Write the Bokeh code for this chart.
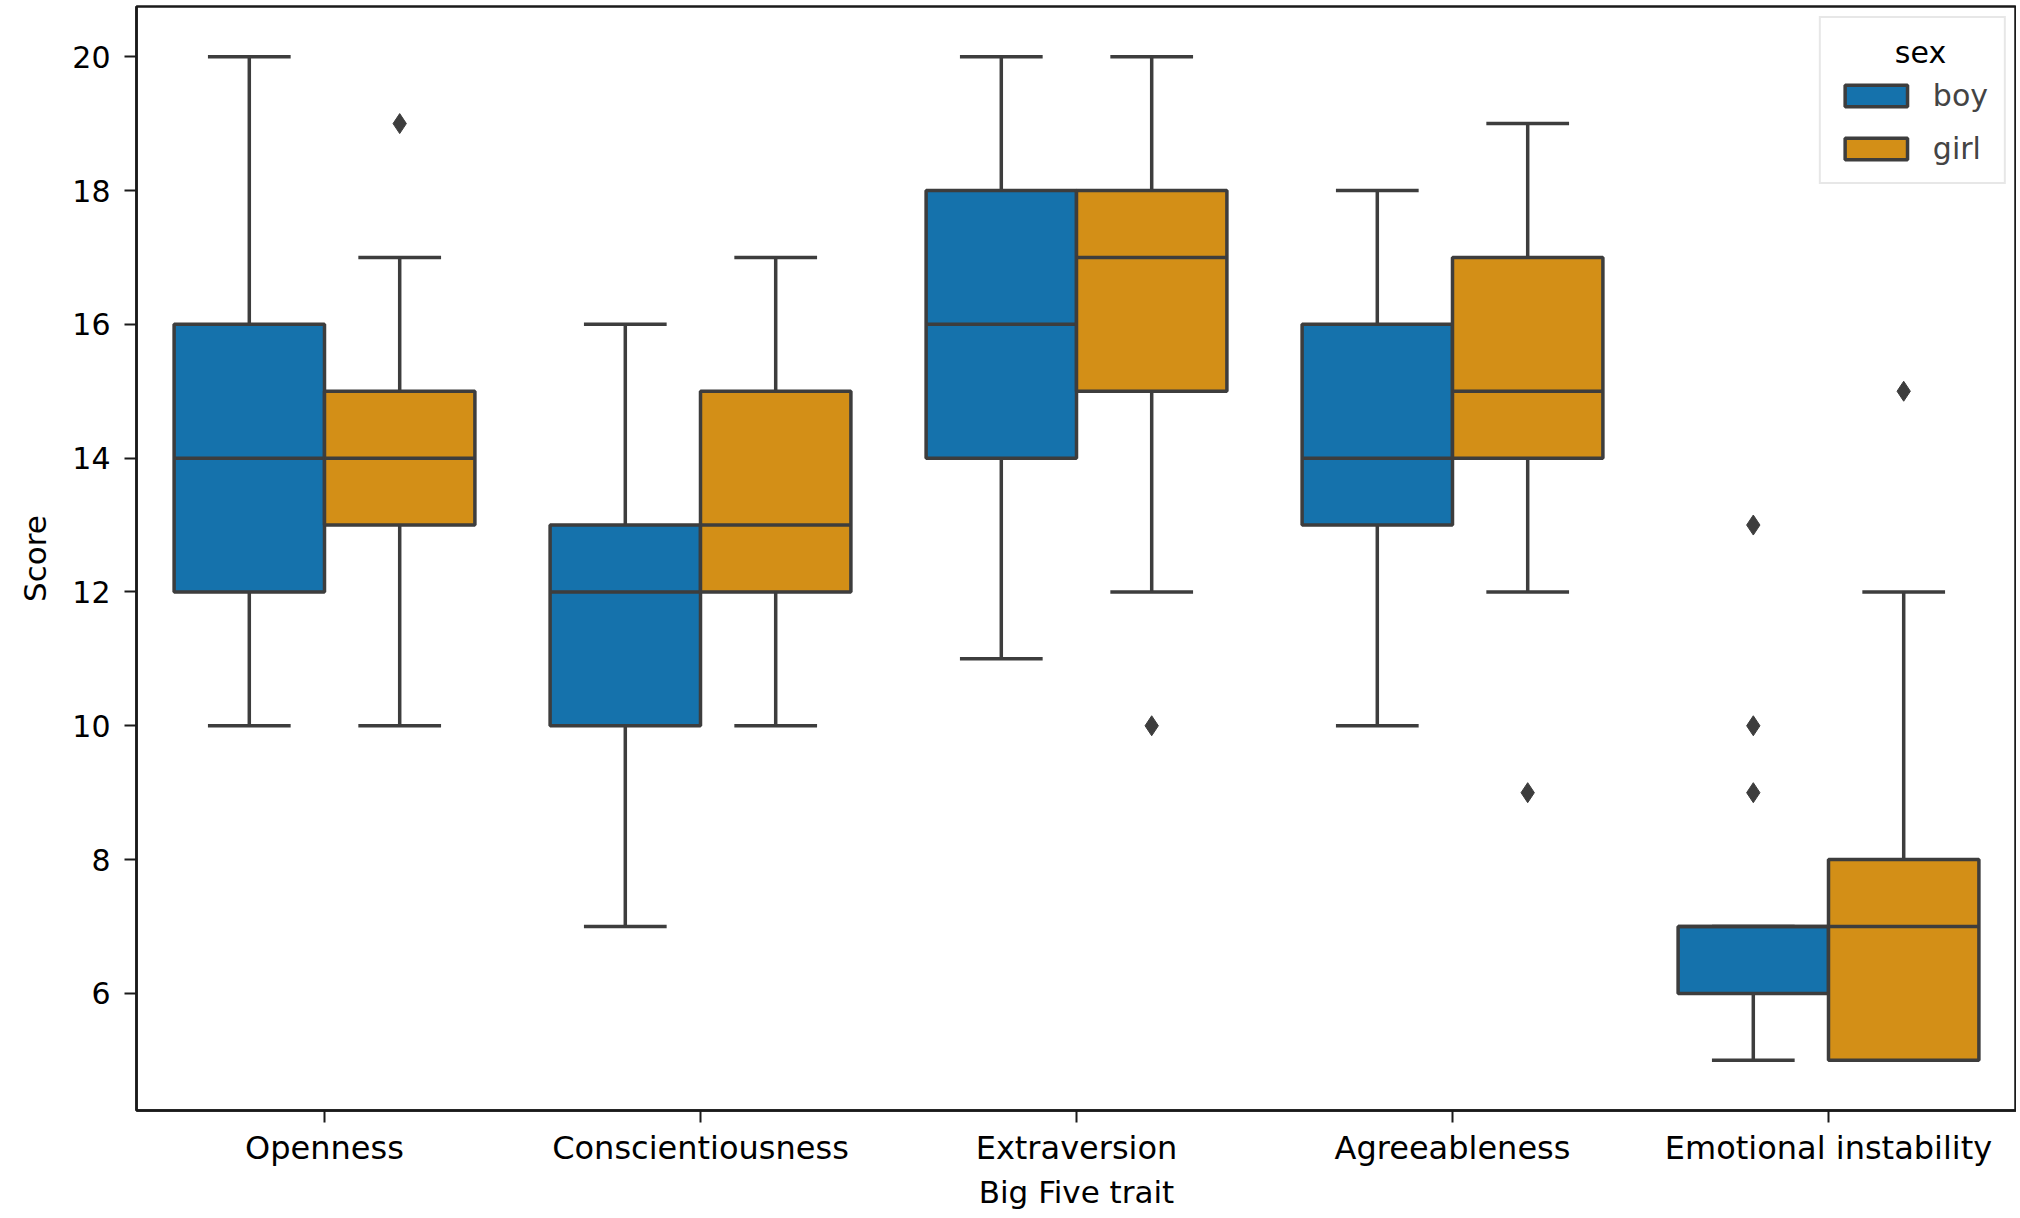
from bokeh.plotting import figure
from bokeh.models import ColumnDataSource, FixedTicker, Legend, LegendItem, Label
from bokeh.transform import dodge
from bokeh.embed import file_html
from bokeh.resources import INLINE

traits = ["Openness", "Conscientiousness", "Extraversion", "Agreeableness", "Emotional instability"]
sexes = ["boy", "girl"]

boy_low = [10, 7, 11, 10, 5]
boy_q1 = [12, 10, 14, 13, 6]
boy_med = [14, 12, 16, 14, 7]
boy_q3 = [16, 13, 18, 16, 7]
boy_high = [20, 16, 20, 18, 7]

girl_low = [10, 10, 12, 12, 5]
girl_q1 = [13, 12, 15, 14, 5]
girl_med = [14, 13, 17, 15, 7]
girl_q3 = [15, 15, 18, 17, 8]
girl_high = [17, 17, 20, 19, 12]

boy_out_trait = ["Emotional instability", "Emotional instability", "Emotional instability"]
boy_out_val = [13, 10, 9]
girl_out_trait = ["Openness", "Extraversion", "Agreeableness", "Emotional instability"]
girl_out_val = [19, 10, 9, 15]

y_ticks = [6, 8, 10, 12, 14, 16, 18, 20]

colors = {"boy": "#1572ac", "girl": "#d38f17"}
offsets = {"boy": -0.2, "girl": 0.2}
LINE = "#3d3d3d"
LW = 3.5
FONT = "DejaVu Sans"

p = figure(x_range=traits, y_range=(4.25, 20.75), width=2016, height=1214,
           output_backend="svg", toolbar_location=None,
           min_border_left=136, min_border_right=0, min_border_top=6, min_border_bottom=104)

stats = {
    "boy": dict(trait=traits, low=boy_low, q1=boy_q1, med=boy_med, q3=boy_q3, high=boy_high),
    "girl": dict(trait=traits, low=girl_low, q1=girl_q1, med=girl_med, q3=girl_q3, high=girl_high),
}
outs = {
    "boy": dict(trait=boy_out_trait, val=boy_out_val),
    "girl": dict(trait=girl_out_trait, val=girl_out_val),
}

box_renderers = {}
for s in sexes:
    src = ColumnDataSource(stats[s])
    off = offsets[s]
    xc = dodge("trait", off, range=p.x_range)
    xl = dodge("trait", off - 0.11, range=p.x_range)
    xr = dodge("trait", off + 0.11, range=p.x_range)
    # whiskers
    p.segment(x0=xc, y0="low", x1=xc, y1="q1", source=src, line_color=LINE, line_width=LW)
    p.segment(x0=xc, y0="q3", x1=xc, y1="high", source=src, line_color=LINE, line_width=LW)
    # caps
    p.segment(x0=xl, y0="low", x1=xr, y1="low", source=src, line_color=LINE, line_width=LW)
    p.segment(x0=xl, y0="high", x1=xr, y1="high", source=src, line_color=LINE, line_width=LW)
    # boxes
    r = p.vbar(x=xc, width=0.4, bottom="q1", top="q3", source=src,
               fill_color=colors[s], line_color=LINE, line_width=LW)
    box_renderers[s] = r
    # medians
    xbl = dodge("trait", off - 0.2, range=p.x_range)
    xbr = dodge("trait", off + 0.2, range=p.x_range)
    p.segment(x0=xbl, y0="med", x1=xbr, y1="med", source=src, line_color=LINE, line_width=LW)
    # outliers
    osrc = ColumnDataSource(outs[s])
    p.scatter(x=dodge("trait", off, range=p.x_range), y="val", source=osrc, marker="diamond",
              size=20, fill_color=LINE, line_color=LINE, line_width=1)

p.xgrid.grid_line_color = None
p.ygrid.grid_line_color = None
p.outline_line_color = "#1a1a1a"
p.outline_line_width = 2.5
p.outline_line_alpha = 1.0

p.yaxis.ticker = FixedTicker(ticks=y_ticks)
for ax in (p.xaxis[0], p.yaxis[0]):
    ax.axis_line_color = "#1a1a1a"
    ax.axis_line_width = 2.5
    ax.major_tick_line_color = "#1a1a1a"
    ax.major_tick_line_width = 2
    ax.major_tick_out = 12
    ax.major_tick_in = 0
    ax.minor_tick_line_color = None
    ax.major_label_text_font = FONT
    ax.major_label_text_color = "black"
    ax.axis_label_text_font = FONT
    ax.axis_label_text_font_size = "31px"
    ax.axis_label_text_font_style = "normal"
    ax.axis_label_text_color = "black"

p.xaxis.major_label_text_font_size = "32px"
p.yaxis.major_label_text_font_size = "30px"
p.xaxis.major_label_standoff = 6
p.yaxis.major_label_standoff = 14
p.xaxis.axis_label = "Big Five trait"
p.yaxis.axis_label = "Score"
p.xaxis.axis_label_standoff = 4
p.yaxis.axis_label_standoff = 16

# legend title, centred over the legend box (matplotlib style)
title_lbl = Label(x=1784, y=1058, x_units="screen", y_units="screen", text="sex",
                  text_font=FONT, text_font_size="30px", text_align="center",
                  text_baseline="middle", text_color="black")
p.add_layout(title_lbl)

legend = Legend(items=[LegendItem(label=s, renderers=[box_renderers[s]]) for s in sexes],
                title=" ", location="top_right")
legend.title_text_font = FONT
legend.title_text_font_size = "30px"
legend.title_standoff = 9
legend.label_text_font = FONT
legend.label_text_font_size = "30px"
legend.border_line_color = "#d0d0d0"
legend.border_line_width = 2
legend.background_fill_alpha = 0.0
legend.glyph_width = 78
legend.glyph_height = 27
legend.label_standoff = 18
legend.margin = 10
legend.padding = 16
legend.spacing = 18
p.add_layout(legend)

open("out.html", "w").write(file_html(p, INLINE))
